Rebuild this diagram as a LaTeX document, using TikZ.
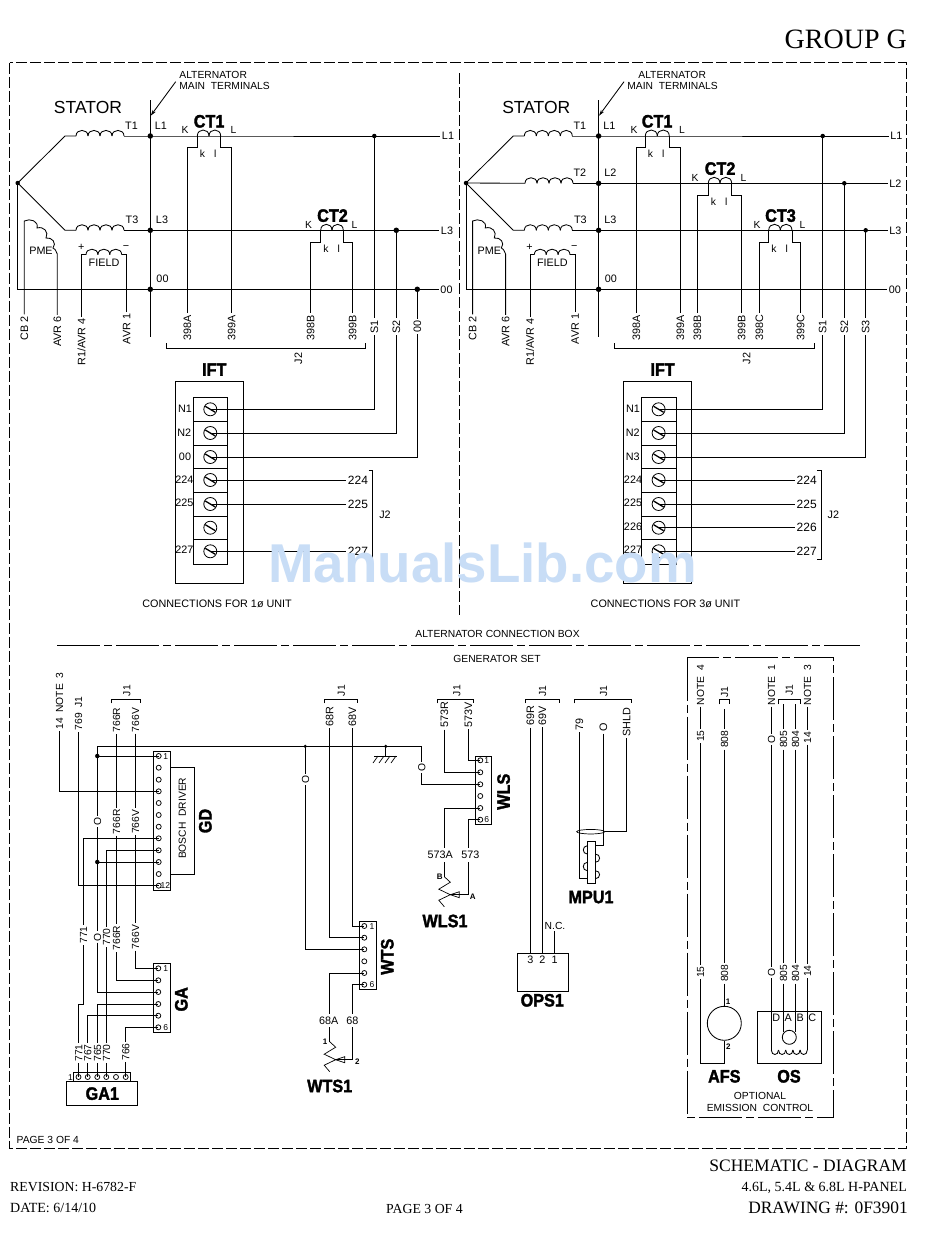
\documentclass[tikz,border=0pt]{standalone}
\usepackage{fontspec}
\setmainfont{Liberation Sans}
\newfontfamily\ttlfont{Liberation Serif}
\newfontfamily\heavy[BoldFeatures={FakeBold=2}]{Liberation Sans}
\usetikzlibrary{arrows.meta,calc,shapes.geometric}
\definecolor{wm}{HTML}{C8DDF6}
\newcounter{tn}
\newcommand\tlab[3][]{\stepcounter{tn}\node[txt,#1] (tx\arabic{tn}) at (#2) {#3};}
\newcommand\hvlab[3][]{\stepcounter{tn}\node[hv,#1] (tx\arabic{tn}) at (#2) {\scalebox{.9}[1]{#3}};}
\newcommand\coilh[5]{\foreach \k in {1,...,#4}{\pgfmathsetmacro\xa{#1+(\k-1)*(#3)}\pgfmathsetmacro\xb{#1+\k*(#3)}\pgfmathsetmacro\yc{#2+(#5)*1.33}\draw[wire] (\xa,#2) .. controls (\xa,\yc) and (\xb,\yc) .. (\xb,#2);}}
\newcommand\brk[4]{\draw[wire] (#1,{#3+#4}) -- (#1,#3) -- (#2,#3) -- (#2,{#3+#4});}
% CT unit: title, xa, xb, y, xl, xr, left label, right label
\newcommand\ctunit[8]{%
  \coilh{#2}{#4}{(#3-#2)/2}{2}{-6}
  \node[rt,fn] (L#7) at (#5,327.7) {#7};
  \node[rt,fn] (L#8) at (#6,327.7) {#8};
  \draw[wire] (#2,#4) -- (#2,{#4+11.7}) -- (#5,{#4+11.7}) -- (L#7);
  \draw[wire] (#3,#4) -- (#3,{#4+11.7}) -- (#6,{#4+11.7}) -- (L#8);
  \hvlab{{#2+11.8},{#4-15}}{#1}
  \tlab{{#5-2.2},{#4-6}}{K}
  \tlab{{#6+1.8},{#4-6}}{L}
  \tlab{{#2+5.2},{#4+18.2}}{k}
  \tlab{{#2+18},{#4+18.2}}{l}
}
\newcommand\sensor[4]{% x, y top, right-wire x, prefix
  \coordinate (#4t) at (#1,#2);
  \coordinate (#4p) at ({#1+6},{#2+18});
  \coordinate (#4r) at (#3,{#2+18});
  \draw[wire,line width=.7pt] (#4t) -- ({#1+6},{#2+5.5}) -- ({#1-5.5},{#2+12.5}) -- (#4p) -- ({#1-5.5},{#2+23.5}) -- ({#1},{#2+30});
  \draw[wire,line width=.7pt] (#4p) -- ({#1+15},{#2+15}) -- ({#1+15},{#2+21}) -- cycle;
  \draw[wire] (#4p) -- (#4r);
}
% everything common to both alternator panels (left-panel coordinates)
\newcommand\statorcommon[1]{%
  \node[dotj] (star) at (17.7,183) {};
  \coordinate (k1) at (65,136); \coordinate (k3) at (65,230.3);
  \node[dotj,minimum size=5.5pt] (jL1) at (150.3,136) {};
  \node[dotj,minimum size=5.5pt] (jL3) at (150.3,230.3) {};
  \node[dotj,minimum size=5.5pt] (j00) at (150.3,289.3) {};
  \coordinate (bart) at (150.3,100); \coordinate (barb) at (150.3,336.7);
  \draw[wire] (bart) -- (barb);
  \coordinate (lead) at (175.7,81.7);
  \coordinate (leadtip) at (150.7,115.7);
  \draw[wire,-{Stealth[length=6pt,width=3.5pt]}] (lead) -- (leadtip);
  \node[txt,font=\fontsize{17.5}{20}\selectfont,text height=13pt] (stator) at (88,106.7) {STATOR};
  \node[txt,fn] (eL1) at (448,136) {L1};
  \node[txt,fn] (eL3) at (447,230.3) {L3};
  \node[txt,fn] (e00) at (446.5,289.3) {00};
  \draw[wire] (star.center) -- (k1) -- (76,136);
  \draw[wire] (star.center) -- (k3) -- (76,230.3);
  \coilh{76}{136}{12}{4}{-5.6}
  \coilh{76}{230.3}{12}{4}{-5.6}
  \draw[wire] (124,136) -- (jL1.center) -- (eL1);
  \draw[wire] (124,230.3) -- (jL3.center) -- (eL3);
  \draw[wire] (star.center) |- (e00);
  \tlab[fn]{131.5,125.7}{T1}
  \tlab[fn]{132,220}{T3}
  \tlab[fn]{161,126}{L1}
  \tlab[fn]{162,220}{L3}
  \tlab[fn]{162.5,279}{00}
  % PME
  \node[rt,fn] (Lcb) at (24.3,328) {CB 2};
  \node[rt,fn] (Lavr6) at (57.3,331.7) {AVR 6};
  \coordinate (pa) at (24.3,221); \coordinate (pb) at (57.3,254);
  \draw[wire] (Lcb) -- (pa) .. controls (30,218) and (39,221) .. (37,228)
     .. controls (44,226) and (49,232) .. (46,238)
     .. controls (52,237) and (57,243) .. (53,248) .. controls (55,249) .. (pb) -- (Lavr6);
  \tlab[fn]{41,250.3}{PME}
  % field
  \node[rt,fn] (Lr1) at (81.7,342) {R1/AVR 4};
  \node[rt,fn] (Lavr1) at (126.7,329) {AVR 1};
  \coordinate (fa) at (81.7,254.7); \coordinate (fb) at (126.7,254.7);
  \draw[wire] (Lr1) -- (fa) -- (86,254.7);
  \draw[wire] (Lavr1) -- (fb) -- (121.7,254.7);
  \coilh{86}{254.7}{11.9}{3}{-5.5}
  \tlab[fn]{81.3,246.5}{+}
  \tlab[fn]{126,246}{−}
  \tlab[fn]{104,262.3}{FIELD}
  % IFT box
  \hvlab{214.3,369.3}{IFT}
  \draw[wire] (175.3,381.7) rectangle (243.3,583.3);
  \draw[wire] (193.3,397.3) rectangle (227.7,564.3);
  \foreach \y in {421.3,445.3,468.3,492.3,516.3,539.3}{\draw[wire] (193.3,\y) -- (227.7,\y);}
  \foreach \i/\y in {1/409.3,2/433,3/457,4/480,5/504,6/527.7,7/551.3}{
    \node[screw] (s\i) at (210.3,\y) {};
    \draw[line width=1.3pt] ($(s\i.center)+(-5,-3)$) -- ($(s\i.center)+(5,3)$);
  }
  \draw[wire] (368.5,470) -- (372.7,470) -- (372.7,559.5) -- (368.5,559.5);
  \tlab[fn]{385,515}{J2}
  \tlab[fn,anchor=west]{140.7,603.3}{CONNECTIONS FOR #1 UNIT}
}
\tikzset{
  wire/.style={line width=.85pt},
  txt/.style={font=\fontsize{10.3}{12}\selectfont,inner sep=1.5pt,text height=7.5pt,text depth=0pt},
  fn/.style={font=\fontsize{10.8}{12}\selectfont},
  bn/.style={font=\fontsize{12}{13}\selectfont,text height=8.5pt},
  rt/.style={txt,rotate=90},
  tiny/.style={txt,font=\fontsize{8.5}{10}\selectfont,text height=6pt,inner sep=0pt},
  hv/.style={font=\fontsize{18}{20}\selectfont\heavy\bfseries,inner sep=1pt,text height=13pt,text depth=0pt},
  dotj/.style={circle,fill=black,inner sep=0pt,minimum size=4.5pt},
  pin/.style={circle,draw,line width=.75pt,inner sep=0pt,minimum size=5pt},
  screw/.style={circle,draw,line width=.8pt,inner sep=0pt,minimum size=13pt},
  framed/.style={line width=.85pt,dash pattern=on 11pt off 3pt},
  cline/.style={line width=.85pt,dash pattern=on 43pt off 4pt on 8pt off 4pt},
  ttl/.style={inner sep=0pt,anchor=base east},
}
\begin{document}
\begin{tikzpicture}[x=1pt,y=-1pt]
\useasboundingbox (0,0) rectangle (950,1237);
\fill[white] (0,0) rectangle (950,1237);
% frame
\coordinate (fa) at (9.5,62.5); \coordinate (fb) at (906.7,1148);
\draw[framed] (fa) rectangle (fb);
\coordinate (mt) at (459.3,73); \coordinate (mb) at (459.3,615);
\draw[framed] (mt) -- (mb);
\coordinate (ha) at (57,645.3); \coordinate (hb) at (860,645.3);
\draw[cline] (ha) -- (hb);
\node[ttl,font=\fontsize{28}{30}\selectfont\ttlfont] (grp) at (907,48) {GROUP G};
\tlab[anchor=west]{177.7,75}{ALTERNATOR}
\tlab[anchor=west]{177.7,86}{MAIN\ \ TERMINALS}
\tlab[anchor=west]{636.7,75}{ALTERNATOR}
\tlab[anchor=west]{625.7,86}{MAIN\ \ TERMINALS}
\tlab{497.5,634}{ALTERNATOR CONNECTION BOX}
\tlab{497,659}{GENERATOR SET}
\tlab[anchor=west]{15,1140}{PAGE 3 OF 4}
% ---------- LEFT PANEL
\begin{scope}[name prefix=a-]
\statorcommon{1ø}
\ctunit{CT1}{197.3}{220.7}{136}{187.3}{231.7}{398A}{399A}
\ctunit{CT2}{320.7}{343.3}{230.3}{310.7}{352.7}{398B}{399B}
\node[dotj] (jS1) at (374.3,136) {};
\node[dotj,minimum size=5.5pt] (jS2) at (396.3,230.3) {};
\node[dotj,minimum size=5.5pt] (jS3) at (417.3,289.3) {};
\node[rt,fn] (LS1) at (374.3,326.7) {S1};
\node[rt,fn] (LS2) at (396.3,326.7) {S2};
\node[rt,fn] (LS3) at (417.3,326.7) {00};
\draw[wire] (jS1.center) -- (LS1); \draw[wire] (LS1) |- (s1.center);
\draw[wire] (jS2.center) -- (LS2); \draw[wire] (LS2) |- (s2.center);
\draw[wire] (jS3.center) -- (LS3); \draw[wire] (LS3) |- (s3.center);
\brk{166.3}{365.7}{348.3}{-5}
\node[rt,fn] (jj) at (298.3,358.3) {J2};
\tlab[fn]{185,409}{N1}
\tlab[fn]{184.3,432.5}{N2}
\tlab[fn]{185,456.5}{00}
\tlab[fn]{184.3,479.5}{224}
\tlab[fn]{184.3,503}{225}
\tlab[fn]{184.3,550}{227}
\node[txt,bn] (n224) at (358,480) {224};
\node[txt,bn] (n225) at (358,504) {225};
\node[txt,bn] (n227) at (358,551.3) {227};
\draw[wire] (s4.center) -- (n224);
\draw[wire] (s5.center) -- (n225);
\draw[wire] (s7.center) -- (n227);
\end{scope}
% ---------- RIGHT PANEL
\begin{scope}[xshift=448.3pt,name prefix=b-]
\statorcommon{3ø}
\coordinate (k2) at (76.7,183.3);
\node[dotj,minimum size=5.5pt] (jL2) at (150.3,183.3) {};
\node[txt,fn] (eL2) at (447,183.3) {L2};
\draw[wire] (star.center) -- (k2);
\coilh{76.7}{183.3}{12}{4}{-5.6}
\draw[wire] (124.7,183.3) -- (jL2.center) -- (eL2);
\tlab[fn]{131.5,173}{T2}
\tlab[fn]{162,173}{L2}
\node[dotj] (jS1) at (374.4,136) {};
\node[dotj] (jS2) at (396,183.3) {};
\node[dotj] (jS3) at (417.4,230.3) {};
\node[rt,fn] (LS1) at (374.4,326.7) {S1};
\node[rt,fn] (LS2) at (396,326.7) {S2};
\node[rt,fn] (LS3) at (417.4,326.7) {S3};
\draw[wire] (jS1.center) -- (LS1); \draw[wire] (LS1) |- (s1.center);
\draw[wire] (jS2.center) -- (LS2); \draw[wire] (LS2) |- (s2.center);
\draw[wire] (jS3.center) -- (LS3); \draw[wire] (LS3) |- (s3.center);
\ctunit{CT1}{197}{221}{136}{188}{232}{398A}{399A}
\ctunit{CT2}{260}{283.4}{183.3}{249}{293.4}{398B}{399B}
\ctunit{CT3}{320.4}{343.7}{230.3}{311}{352.4}{398C}{399C}
\brk{166}{366.4}{348.3}{-5}
\node[rt,fn] (jj) at (298.4,358.3) {J2};
\tlab[fn]{184.7,409}{N1}
\tlab[fn]{184.4,432.5}{N2}
\tlab[fn]{184.4,456.5}{N3}
\tlab[fn]{184.7,479.5}{224}
\tlab[fn]{184.7,503}{225}
\tlab[fn]{184.7,526.5}{226}
\tlab[fn]{184.7,550}{227}
\node[txt,bn] (n224) at (358.4,480) {224};
\node[txt,bn] (n225) at (358.4,504) {225};
\node[txt,bn] (n226) at (358.4,527.7) {226};
\node[txt,bn] (n227) at (358.4,551.3) {227};
\draw[wire] (s4.center) -- (n224);
\draw[wire] (s5.center) -- (n225);
\draw[wire] (s6.center) -- (n226);
\draw[wire] (s7.center) -- (n227);
\end{scope}
% ---------- GD connector
\draw[wire] (153.3,751.3) rectangle (170.7,890.3);
\draw[wire] (170.7,767.3) -- (194.3,767.3) -- (194.3,874) -- (170.7,874);
\foreach \i/\y in {1/756,2/767.7,3/779.7,4/791.3,5/803,6/815,7/826.7,8/838.3,9/850.3,10/862,11/874,12/885.7}{\node[pin] (gd\i) at (158.7,\y) {};}
\tlab[tiny]{165.7,756}{1}
\tlab[tiny]{165.4,885.7}{12}
\node[rt] (bd) at (182,818.3) {BOSCH\ \ DRIVER};
\hvlab[rotate=90]{205,821}{GD}
\node[rt] (L14) at (59.3,701) {14\ \ NOTE\ \ 3};
\node[rt] (L769) at (78.3,713.5) {769\ \ J1};
\node[rt] (R1) at (116.3,720) {766R};
\node[rt] (V1) at (135.3,720) {766V};
\brk{111.7}{140}{699.3}{4}
\node[rt] (gj1) at (126.7,690.7) {J1};
\node[rt] (R2) at (116.3,821.7) {766R};
\node[rt] (V2) at (135.3,821.7) {766V};
\node[rt] (R3) at (116.3,938) {766R};
\node[rt] (V3) at (135.3,937) {766V};
\node[rt] (O1) at (97.3,821.7) {O};
\node[rt] (O2) at (97.3,937) {O};
\node[rt] (L771a) at (83.3,935) {771};
\node[rt] (L770a) at (106.3,937) {770};
\node[rt] (L771b) at (78.5,1053) {771};
\node[rt] (L767) at (87.7,1053) {767};
\node[rt] (L765) at (97.3,1053) {765};
\node[rt] (L770b) at (106.3,1053) {770};
\node[rt] (L766) at (125.7,1052) {766};
% GA connector
\draw[wire] (153.3,963.3) rectangle (170,1032.3);
\foreach \i/\y in {1/968.3,2/980.3,3/992,4/1004,5/1015.7,6/1027.3}{\node[pin] (ga\i) at (158.3,\y) {};}
\tlab[tiny]{165.7,968.3}{1}
\tlab[tiny]{165.7,1027.3}{6}
\hvlab[rotate=90]{181,999.3}{GA}
% GA1
\draw[wire] (66.7,1081.3) rectangle (137.3,1105.3);
\draw[wire] (73.3,1081.3) -- (73.3,1072.3) -- (130.7,1072.3) -- (130.7,1081.3);
\foreach \i/\x in {1/78.5,2/87.7,3/97.3,4/106.3,5/116,6/125.7}{\node[pin] (gp\i) at (\x,1077) {};}
\tlab[tiny]{70.5,1077}{1}
\hvlab{102.3,1093.3}{GA1}
% WLS connector
\draw[wire] (475.7,756.3) rectangle (491.7,824.3);
\foreach \i/\y in {1/760.3,2/772.3,3/784.3,4/796,5/808,6/819.7}{\node[pin] (wl\i) at (480.3,\y) {};}
\tlab[tiny]{486.7,760.3}{1}
\tlab[tiny]{486.7,819.7}{6}
\hvlab[rotate=90]{503.3,791.7}{WLS}
% WTS connector
\draw[wire] (359.3,921.7) rectangle (376.7,989.7);
\foreach \i/\y in {1/926,2/937.7,3/949.3,4/961.3,5/973,6/984.7}{\node[pin] (wt\i) at (364.3,\y) {};}
\tlab[tiny]{372,926}{1}
\tlab[tiny]{372,984.7}{6}
\hvlab[rotate=90]{387,956.7}{WTS}
% rail
\coordinate (railL) at (97.3,746.3); \coordinate (railR) at (421.7,746.3);
\node[dotj,minimum size=3.5pt] (rj1) at (305.3,746.3) {};
\node[dotj,minimum size=3.5pt] (rj2) at (385.7,746.3) {};
\node[dotj] (dg1) at (97.3,756) {};
\node[dotj] (dg2) at (97.3,862) {};
\node[rt] (O3) at (421.7,767.7) {O};
\node[rt] (O4) at (305.3,779.3) {O};
\draw[wire] (railL) -- (railR) -- (O3);
\draw[wire] (O3) |- (wl3.center);
\draw[wire] (rj1.center) -- (O4);
\draw[wire] (O4) |- (wt3.center);
\draw[wire] (railL) -- (O1);
\draw[wire] (O1) -- (O2);
\draw[wire] (O2) |- (ga3.center);
\draw[wire] (dg1.center) -- (gd1.center);
\draw[wire] (dg2.center) -- (gd10.center);
% ground
\coordinate (gnd) at (385.7,756);
\draw[wire] (rj2.center) -- (gnd);
\draw[wire] (374,756) -- (397.3,756);
\foreach \x in {378,384,390,396}{\draw[line width=.7pt] (\x,756) -- ({\x-5},763);}
% GD wires
\draw[wire] (L14) |- (gd4.center);
\draw[wire] (L769) |- (gd12.center);
\draw[wire] (R1) -- (R2); \draw[wire] (R2) -- (R3); \draw[wire] (R3) |- (ga2.center);
\draw[wire] (V1) -- (V2); \draw[wire] (V2) -- (V3); \draw[wire] (V3) |- (ga1.center);
\coordinate (k771a) at (83.3,1004); \coordinate (k771b) at (78.5,1004);
\draw[wire] (gd8.center) -| (L771a);
\draw[wire] (L771a) -- (k771a) -- (k771b) -- (L771b);
\draw[wire] (L771b) -- (gp1.center);
\draw[wire] (gd9.center) -| (L770a);
\draw[wire] (L770a) -- (L770b);
\draw[wire] (L770b) -- (gp4.center);
\draw[wire] (ga4.center) -| (L765); \draw[wire] (L765) -- (gp3.center);
\draw[wire] (ga5.center) -| (L767); \draw[wire] (L767) -- (gp2.center);
\draw[wire] (ga6.center) -| (L766); \draw[wire] (L766) -- (gp6.center);
% WLS wires
\brk{437.7}{473.7}{699.3}{4}
\node[rt] (wj) at (456.7,690.7) {J1};
\node[rt,fn] (L573R) at (444.3,715) {573R};
\node[rt,fn] (L573V) at (468.3,715) {573V};
\draw[wire] (L573R) |- (wl2.center);
\draw[wire] (L573V) |- (wl1.center);
\coordinate (wa1) at (444.3,848); \coordinate (wa2) at (444.3,862);
\coordinate (wb1) at (468.3,848); \coordinate (wb2) at (468.3,862);
\draw[wire] (wl5.center) -| (wa1);
\draw[wire] (wl6.center) -| (wb1);
\tlab[fn]{440.3,855}{573A}
\tlab[fn]{470.3,855}{573}
\sensor{444.3}{876.7}{468.3}{ws}
\draw[wire] (wa2) -- (wst);
\draw[wire] (wb2) -- (wsr);
\tlab[tiny,font=\fontsize{8}{9}\selectfont\bfseries]{439.7,876.7}{B}
\tlab[tiny,font=\fontsize{8}{9}\selectfont\bfseries]{472.7,896}{A}
\hvlab{445,920.7}{WLS1}
% WTS wires
\brk{324.7}{357.7}{699.3}{4}
\node[rt] (tj) at (341,690.7) {J1};
\node[rt,fn] (L68R) at (329.7,716.7) {68R};
\node[rt,fn] (L68V) at (352.3,716.7) {68V};
\draw[wire] (L68R) |- (wt2.center);
\draw[wire] (L68V) |- (wt1.center);
\coordinate (ta1) at (329.7,1013.5); \coordinate (ta2) at (329.7,1027);
\coordinate (tb1) at (352.3,1013.5); \coordinate (tb2) at (352.3,1027);
\draw[wire] (wt5.center) -| (ta1);
\draw[wire] (wt6.center) -| (tb1);
\tlab[fn]{328.7,1020.3}{68A}
\tlab[fn]{352.3,1020.3}{68}
\sensor{329.7}{1041.7}{352.3}{ts}
\draw[wire] (ta2) -- (tst);
\draw[wire] (tb2) -- (tsr);
\tlab[tiny,font=\fontsize{8}{9}\selectfont\bfseries]{325,1041.7}{1}
\tlab[tiny,font=\fontsize{8}{9}\selectfont\bfseries]{357.3,1061}{2}
\hvlab{329.7,1085.7}{WTS1}
% OPS1
\brk{525.7}{559.3}{699.3}{4}
\node[rt] (oj) at (542.3,691) {J1};
\node[draw,line width=.85pt,minimum width=51pt,minimum height=38pt,inner sep=0pt] (ops) at (542.8,972.3) {};
\node[rt,fn] (L69R) at (530.3,716) {69R};
\node[rt,fn] (L69V) at (542.3,716) {69V};
\node[txt] (Lnc) at (555,925.5) {N.C.};
\coordinate (op3) at (530.3,953.3); \coordinate (op2) at (542.3,953.3); \coordinate (op1) at (554.5,953.3);
\coordinate (op0) at (554.5,931);
\draw[wire] (L69R) -- (op3);
\draw[wire] (L69V) -- (op2);
\draw[wire] (op0) -- (op1);
\tlab[fn]{530.3,959.5}{3}
\tlab[fn]{542.3,959.5}{2}
\tlab[fn]{554.5,959.5}{1}
\hvlab{542.3,1000}{OPS1}
% MPU1
\brk{574.3}{631.7}{699.3}{4}
\node[rt] (mj) at (603.3,691) {J1};
\node[rt,fn] (L79) at (579.3,724.3) {79};
\node[rt,fn] (LO) at (603.3,727.7) {O};
\node[rt,fn] (LSH) at (626.7,722) {SHLD};
\coordinate (mc) at (590.7,831.7);
\node[draw,ellipse,line width=.7pt,minimum width=28pt,minimum height=4.5pt,inner sep=0pt] (shield) at (mc) {};
\coordinate (m79) at (579.3,878.7); \coordinate (m0) at (603.3,845.7); \coordinate (msh) at (626.7,831.7);
\draw[wire] (L79) -- (m79) -- (587.3,878.7);
\draw[wire] (LO) -- (m0) -- (595.3,845.7);
\draw[wire] (LSH) -- (msh) -- (shield);
\draw[wire] (587.3,841.3) rectangle (595.3,883.7);
\draw[wire] (587.3,845.7) .. controls (582,846) and (582,854) .. (587.3,854);
\draw[wire] (595.3,854) .. controls (601,854) and (601,862.3) .. (595.3,862.3);
\draw[wire] (587.3,862.3) .. controls (582,862.3) and (582,870.7) .. (587.3,870.7);
\draw[wire] (595.3,870.7) .. controls (601,870.7) and (601,878.7) .. (595.3,878.7);
\hvlab{591,896.7}{MPU1}
% OPTIONAL box
\coordinate (oba) at (687,657.7); \coordinate (obb) at (833.3,1117.3);
\draw[cline] (oba) rectangle (obb);
\node[rt] (N4) at (700.3,685) {NOTE\ \ 4};
\node[rt] (L15a) at (700.3,736) {15};
\node[rt] (L15b) at (700.3,972) {15};
\node[rt] (L808a) at (724.3,739.3) {808};
\node[rt] (L808b) at (724.3,973.3) {808};
\node[circle,draw,line width=.85pt,minimum size=34pt,inner sep=0pt] (afs) at (724.3,1023.3) {};
\coordinate (afk) at (700.3,1063.3); \coordinate (afk2) at (724.3,1063.3);
\draw[wire] (N4) -- (L15a); \draw[wire] (L15a) -- (L15b);
\draw[wire] (L15b) -- (afk) -- (afk2) -- (afs.south);
\draw[wire] (L808b) -- (afs.north);
\draw[wire] (L808a) -- (L808b);
\brk{719.3}{729}{699.3}{5}
\coordinate (j808) at (724.3,709);
\draw[wire] (j808) -- (L808a);
\node[rt] (jafs) at (724.3,692.3) {J1};
\tlab[tiny,font=\fontsize{8}{9}\selectfont\bfseries]{728,1001.7}{1}
\tlab[tiny,font=\fontsize{8}{9}\selectfont\bfseries]{728.3,1046.7}{2}
\hvlab{724.3,1076}{AFS}
% OS
\node[draw,line width=.85pt,minimum width=64pt,minimum height=52pt,inner sep=0pt] (osb) at (789.7,1037.3) {};
\node[rt] (N1) at (771.3,685) {NOTE\ \ 1};
\node[rt] (N3) at (807.3,685) {NOTE\ \ 3};
\node[rt] (O5) at (771.3,739.3) {O};
\node[rt] (L805a) at (783.3,739.3) {805};
\node[rt] (L804a) at (795.3,739.3) {804};
\node[rt] (L14a) at (807.3,737.3) {14};
\node[rt] (O6) at (771.3,972.7) {O};
\node[rt] (L805b) at (783.3,973.3) {805};
\node[rt] (L804b) at (795.3,973.3) {804};
\node[rt] (L14b) at (807.3,971) {14};
\node[rt] (jos) at (789,690) {J1};
\brk{778.3}{800.7}{699.3}{5}
\coordinate (j805) at (783.3,704); \coordinate (j804) at (795.3,704);
\node[circle,draw,line width=.85pt,minimum size=14pt,inner sep=0pt] (osc) at (789.3,1037.3) {};
\coordinate (cl) at (771.3,1050); \coordinate (cr) at (807.3,1050);
\coordinate (e805) at (783.3,1031.7); \coordinate (e804) at (795.3,1031.7);
\draw[wire] (N1) -- (O5); \draw[wire] (O5) -- (O6); \draw[wire] (O6) -- (cl);
\draw[wire] (N3) -- (L14a); \draw[wire] (L14a) -- (L14b); \draw[wire] (L14b) -- (cr);
\draw[wire] (j805) -- (L805a); \draw[wire] (L805a) -- (L805b); \draw[wire] (L805b) -- (e805);
\draw[wire] (j804) -- (L804a); \draw[wire] (L804a) -- (L804b); \draw[wire] (L804b) -- (e804);
\coilh{771.3}{1050}{7.2}{5}{4.5}
\tlab[fn]{776.3,1017.3}{D}
\tlab[fn]{788.3,1017.3}{A}
\tlab[fn]{800.3,1017.3}{B}
\tlab[fn]{812.3,1017.3}{C}
\hvlab{789,1076}{OS}
\tlab{760,1096}{OPTIONAL}
\tlab{760,1108}{EMISSION\ \ CONTROL}
% title block
\node[ttl,font=\fontsize{17.5}{20}\selectfont\ttlfont] (tb1) at (907,1171) {SCHEMATIC - DIAGRAM};
\node[ttl,font=\fontsize{14}{15}\selectfont\ttlfont] (tb2) at (907,1191.5) {4.6L, 5.4L \& 6.8L H-PANEL};
\node[ttl,font=\fontsize{17.4}{19}\selectfont\ttlfont] (tb3) at (908,1213) {DRAWING \#: 0F3901};
\node[ttl,anchor=base west,font=\fontsize{13.8}{16}\selectfont\ttlfont] (tb4) at (10,1191.5) {REVISION: H-6782-F};
\node[ttl,anchor=base west,font=\fontsize{14}{16}\selectfont\ttlfont] (tb5) at (10,1212) {DATE: 6/14/10};
\node[ttl,anchor=base west,font=\fontsize{13.8}{16}\selectfont\ttlfont] (tb6) at (386,1213) {PAGE 3 OF 4};
% watermark
\node[anchor=base west,inner sep=0pt,text=wm,font=\fontsize{54.7}{60}\selectfont\bfseries] (wmk) at (268,582.7) {ManualsLib.com};
\end{tikzpicture}
\end{document}
